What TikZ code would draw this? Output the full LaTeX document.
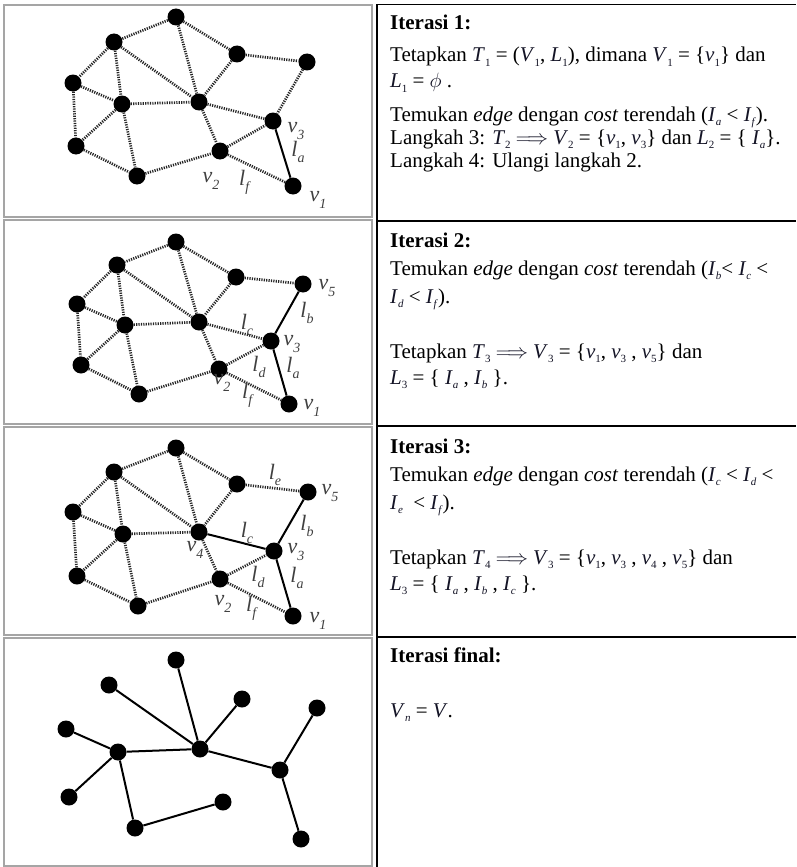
\documentclass[tikz,border=0pt]{standalone}
\usepackage{fontspec}
\setmainfont{Liberation Serif}
\definecolor{mathc}{RGB}{20,20,38}
\definecolor{framegray}{RGB}{165,165,165}
\newcommand\mysub[1]{\raisebox{-0.2em}{\fontsize{11}{11}\selectfont #1}}
\newcommand\mv[2]{{\color{mathc}\textit{#1}\mysub{#2}}}
\newcommand\mi[1]{{\color{mathc}\textit{#1}}}
\newcommand\lv[2]{\textit{#1}\raisebox{-0.28em}{\fontsize{14}{14}\selectfont\textit{#2}}}
\begin{document}
\begin{tikzpicture}[x=1pt,y=-1pt,
  dot/.style={circle,fill=black,inner sep=0pt,minimum size=17pt},
  dotedge/.style={line width=2.7pt,dash pattern=on 1.2pt off 1.2pt,black!85},
  treeedge/.style={line width=2pt,black},
  lbl/.style={inner sep=0pt,font=\fontsize{22}{22}\selectfont,text=black!75},
  txt/.style={anchor=base west,inner sep=0pt,font=\fontsize{21}{24}\selectfont},
  cellgray/.style={draw=framegray,line width=2pt},
  cellblack/.style={draw=black,line width=1.5pt}]
\useasboundingbox (0,0) rectangle (796,867);
\fill[white] (0,0) rectangle (796,867);

% left cell frames
\draw[cellgray] (3.5,5) rectangle (372,217);
\draw[cellgray] (3.5,220) rectangle (372,424);
\draw[cellgray] (3.5,427) rectangle (372,635);
\draw[cellgray] (3.5,638) rectangle (372,866);
% right cell borders
\draw[cellblack] (377,4.5) -- (796,4.5);
\draw[cellblack] (377,4.5) -- (377,867);
\draw[cellblack] (377,221) -- (796,221);
\draw[cellblack] (377,426) -- (796,426);
\draw[cellblack] (377,637) -- (796,637);

% ---------- row 1 graph
\node[dot] (n1A) at (176,17) {};
\node[dot] (n1B) at (114,42) {};
\node[dot] (n1C) at (237,54) {};
\node[dot] (n1D) at (307,62) {};
\node[dot] (n1E) at (73,83) {};
\node[dot] (n1F) at (122,104) {};
\node[dot] (n1G) at (199,102) {};
\node[dot] (n1K) at (273,121) {};
\node[dot] (n1H) at (76,146) {};
\node[dot] (n1J) at (220,151) {};
\node[dot] (n1I) at (137,176) {};
\node[dot] (n1L) at (293,186) {};
% ---------- row 2 graph
\node[dot] (n2A) at (176,242) {};
\node[dot] (n2B) at (117,265) {};
\node[dot] (n2C) at (236,277) {};
\node[dot] (n2D) at (303,284) {};
\node[dot] (n2E) at (77,304) {};
\node[dot] (n2F) at (125,325) {};
\node[dot] (n2G) at (199,322) {};
\node[dot] (n2K) at (271,341) {};
\node[dot] (n2H) at (81,365) {};
\node[dot] (n2J) at (219,369) {};
\node[dot] (n2I) at (139,394) {};
\node[dot] (n2L) at (289,404) {};
% ---------- row 3 graph
\node[dot] (n3A) at (176,448) {};
\node[dot] (n3B) at (114,472) {};
\node[dot] (n3C) at (237,484) {};
\node[dot] (n3D) at (308,492) {};
\node[dot] (n3E) at (73,512) {};
\node[dot] (n3F) at (123,534) {};
\node[dot] (n3G) at (199,532) {};
\node[dot] (n3K) at (274,551) {};
\node[dot] (n3H) at (77,576) {};
\node[dot] (n3J) at (220,579) {};
\node[dot] (n3I) at (138,606) {};
\node[dot] (n3L) at (293,616) {};
% ---------- row 4 graph
\node[dot] (n4A) at (176,660) {};
\node[dot] (n4B) at (109,685) {};
\node[dot] (n4C) at (242,699) {};
\node[dot] (n4D) at (317,708) {};
\node[dot] (n4E) at (66,729) {};
\node[dot] (n4F) at (118,752) {};
\node[dot] (n4G) at (200,749) {};
\node[dot] (n4K) at (280,770) {};
\node[dot] (n4H) at (69,797) {};
\node[dot] (n4J) at (223,802) {};
\node[dot] (n4I) at (135,828) {};
\node[dot] (n4L) at (301,839) {};

% dotted edges common to rows 1-3
\foreach \r in {1,2,3}{
  \foreach \p/\q in {A/B,A/C,A/G,B/E,B/F,B/G,C/D,C/G,E/F,E/H,F/G,F/H,F/I,G/J,J/K,J/L,H/I,I/J}
    \draw[dotedge] (n\r\p) -- (n\r\q);
  \draw[treeedge] (n\r K) -- (n\r L);
}
\draw[dotedge] (n1D) -- (n1K);
\draw[dotedge] (n1G) -- (n1K);
\draw[treeedge] (n2D) -- (n2K);
\draw[dotedge] (n2G) -- (n2K);
\draw[treeedge] (n3D) -- (n3K);
\draw[treeedge] (n3G) -- (n3K);
% final tree
\foreach \p/\q in {B/G,A/G,C/G,E/F,F/G,H/F,F/I,I/J,G/K,D/K,K/L}
  \draw[treeedge] (n4\p) -- (n4\q);

% graph labels row 1
\node[lbl] (a1v3) at (296,131) {\lv{v}{3}};
\node[lbl] (a1la) at (298,152) {\lv{l}{a}};
\node[lbl] (a1v2) at (211,181) {\lv{v}{2}};
\node[lbl] (a1lf) at (245,182) {\lv{l}{f}};
\node[lbl] (a1v1) at (318,200) {\lv{v}{1}};
% row 2
\node[lbl] (a2v5) at (327,288) {\lv{v}{5}};
\node[lbl] (a2lb) at (307,313) {\lv{l}{b}};
\node[lbl] (a2lc) at (247,325) {\lv{l}{c}};
\node[lbl] (a2v3) at (292,344) {\lv{v}{3}};
\node[lbl] (a2ld) at (259,367) {\lv{l}{d}};
\node[lbl] (a2la) at (293,368) {\lv{l}{a}};
\node[lbl] (a2v2) at (222,383) {\lv{v}{2}};
\node[lbl] (a2lf) at (248,395) {\lv{l}{f}};
\node[lbl] (a2v1) at (312,408) {\lv{v}{1}};
% row 3
\node[lbl] (a3le) at (275,475) {\lv{l}{e}};
\node[lbl] (a3v5) at (330,493) {\lv{v}{5}};
\node[lbl] (a3lc) at (247,533) {\lv{l}{c}};
\node[lbl] (a3lb) at (307,526) {\lv{l}{b}};
\node[lbl] (a3v4) at (195,550) {\lv{v}{4}};
\node[lbl] (a3v3) at (296,552) {\lv{v}{3}};
\node[lbl] (a3ld) at (258,577) {\lv{l}{d}};
\node[lbl] (a3la) at (297,578) {\lv{l}{a}};
\node[lbl] (a3v2) at (223,604) {\lv{v}{2}};
\node[lbl] (a3lf) at (252,608) {\lv{l}{f}};
\node[lbl] (a3v1) at (318,621) {\lv{v}{1}};

% ---------- texts
\node[txt] (t11) at (390,30) {\textbf{Iterasi 1:}};
\node[txt] (t12) at (390,62) {Tetapkan \mv{T}{1} = (\mv{V}{1}, \mv{L}{1}), dimana \mv{V}{1} = \{\mv{v}{1}\} dan};
\node[txt] (t13) at (390,88) {\mv{L}{1} = {\color{mathc}$\phi$} .};
\node[txt] (t14) at (390,121) {Temukan \textit{edge} dengan \textit{cost} terendah (\mv{I}{\textit{a}} < \mv{I}{\textit{f}}).};
\node[txt] (t15) at (390,144) {Langkah 3: \mv{T}{2} {\color{mathc}$\Longrightarrow$} \mv{V}{2} = \{\mv{v}{1}, \mv{v}{3}\} dan \mv{L}{2} = \{ \mv{I}{\textit{a}}\}.};
\node[txt] (t16) at (390,167) {Langkah 4: Ulangi langkah 2.};

\node[txt] (t21) at (390,247) {\textbf{Iterasi 2:}};
\node[txt] (t22) at (390,275) {Temukan \textit{edge} dengan \textit{cost} terendah (\mv{I}{\textit{b}}< \mv{I}{\textit{c}} <};
\node[txt] (t23) at (390,303) {\mv{I}{\textit{d}} < \mv{I}{\textit{f}}).};
\node[txt] (t24) at (390,358) {Tetapkan \mv{T}{3} {\color{mathc}$\Longrightarrow$} \mv{V}{3} = \{\mv{v}{1}, \mv{v}{3} , \mv{v}{5}\} dan};
\node[txt] (t25) at (390,384) {\mv{L}{3} = \{ \mv{I}{\textit{a}} , \mv{I}{\textit{b}} \}.};

\node[txt] (t31) at (390,453) {\textbf{Iterasi 3:}};
\node[txt] (t32) at (390,481) {Temukan \textit{edge} dengan \textit{cost} terendah (\mv{I}{\textit{c}} < \mv{I}{\textit{d}} <};
\node[txt] (t33) at (390,509) {\mv{I}{\textit{e}} \ < \mv{I}{\textit{f}}).};
\node[txt] (t34) at (390,564) {Tetapkan \mv{T}{4} {\color{mathc}$\Longrightarrow$} \mv{V}{3} = \{\mv{v}{1}, \mv{v}{3} , \mv{v}{4} , \mv{v}{5}\} dan};
\node[txt] (t35) at (390,590) {\mv{L}{3} = \{ \mv{I}{\textit{a}} , \mv{I}{\textit{b}} , \mv{I}{\textit{c}} \}.};

\node[txt] (t41) at (390,662) {\textbf{Iterasi final:}};
\node[txt] (t42) at (390,717) {\mv{V}{\textit{n}} = \mi{V}.};
\end{tikzpicture}
\end{document}
